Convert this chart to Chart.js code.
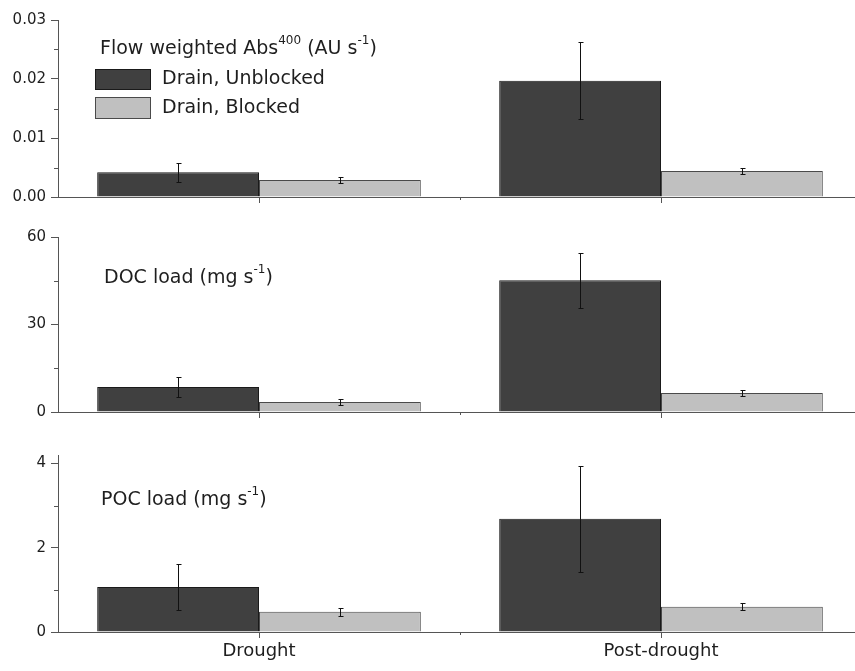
<!DOCTYPE html>
<html>
<head>
<meta charset="utf-8">
<script src="https://cdn.jsdelivr.net/npm/chart.js@4.4.1/dist/chart.umd.min.js"></script>
<style>
html, body { margin: 0; padding: 0; background: #fff; overflow: hidden; width: 855px; height: 671px; }
canvas { position: absolute; left: 0; }
</style>
</head>
<body>
<canvas id="painel-abs" width="862" height="227" style="top:0px"></canvas>
<canvas id="painel-doc" width="862" height="220" style="top:222px"></canvas>
<canvas id="painel-poc" width="862" height="231" style="top:440px"></canvas>
<script>
// dados
const categories = ['Drought', 'Post-drought'];
const seriesNames = ['Drain, Unblocked', 'Drain, Blocked'];

const absUnblocked = [0.0042, 0.0197];
const absUnblockedErr = [0.0016, 0.0065];
const absBlocked = [0.0029, 0.0044];
const absBlockedErr = [0.0005, 0.0005];

const docUnblocked = [8.6, 45.2];
const docUnblockedErr = [3.3, 9.4];
const docBlocked = [3.4, 6.5];
const docBlockedErr = [1.0, 1.0];

const pocUnblocked = [1.07, 2.69];
const pocUnblockedErr = [0.55, 1.26];
const pocBlocked = [0.48, 0.6];
const pocBlockedErr = [0.1, 0.08];

const absTicks = [0, 0.01, 0.02, 0.03];
const absMinor = [0.005, 0.015, 0.025];
const docTicks = [0, 30, 60];
const docMinor = [15, 45];
const pocTicks = [0, 2, 4];
const pocMinor = [1, 3];

const darkFill = '#404040';
const darkEdge = '#1a1a1a';
const lightFill = '#c0c0c0';
const lightEdge = '#4a4a4a';
const axisColor = '#555555';
const textColor = '#1e1e1e';

Chart.defaults.font.family = '"DejaVu Sans", sans-serif';

function drawRich(ctx, parts, x, y) {
	parts.forEach(p => {
		ctx.font = (p.sup ? '12px' : '19px') + ' "DejaVu Sans"';
		ctx.fillText(p.t, x, p.sup ? y - 8 : y);
		x += ctx.measureText(p.t).width;
	});
}

const errorBars = {
	id: 'errorBars',
	afterDatasetsDraw(chart) {
		const ctx = chart.ctx;
		const y = chart.scales.y;
		ctx.save();
		ctx.strokeStyle = '#111';
		ctx.lineWidth = 1;
		chart.data.datasets.forEach((ds, i) => {
			chart.getDatasetMeta(i).data.forEach((bar, j) => {
				const px = Math.round(bar.x) + 0.5;
				const top = Math.round(y.getPixelForValue(ds.data[j] + ds.errors[j])) + 0.5;
				const bot = Math.round(y.getPixelForValue(ds.data[j] - ds.errors[j])) + 0.5;
				ctx.beginPath();
				ctx.moveTo(px, top); ctx.lineTo(px, bot);
				ctx.moveTo(px - 2, top); ctx.lineTo(px + 3, top);
				ctx.moveTo(px - 2, bot); ctx.lineTo(px + 3, bot);
				ctx.stroke();
			});
		});
		ctx.restore();
	}
};

const panelDecor = {
	id: 'panelDecor',
	afterDraw(chart, args, opts) {
		const ctx = chart.ctx;
		const { x, y } = chart.scales;
		const left = chart.chartArea.left;
		ctx.save();
		ctx.strokeStyle = axisColor;
		ctx.lineWidth = 1;
		ctx.beginPath();
		opts.minor.forEach(v => {
			const py = Math.round(y.getPixelForValue(v)) + 0.5;
			ctx.moveTo(left - 4, py); ctx.lineTo(left, py);
		});
		const mx = Math.round(x.getPixelForValue(0.5)) + 0.5;
		ctx.moveTo(mx, chart.chartArea.bottom); ctx.lineTo(mx, chart.chartArea.bottom + 3);
		ctx.stroke();

		ctx.fillStyle = textColor;
		ctx.textBaseline = 'middle';
		ctx.textAlign = 'left';
		drawRich(ctx, opts.title, opts.titleX, opts.titleY);

		if (opts.legend) {
			const ds = chart.data.datasets;
			const rows = [[69, 20, 79], [97, 21, 108]];
			rows.forEach((r, i) => {
				ctx.fillStyle = ds[i].backgroundColor;
				ctx.strokeStyle = ds[i].borderColor;
				ctx.fillRect(95, r[0], 55, r[1]);
				ctx.strokeRect(95.5, r[0] + 0.5, 55, r[1]);
				ctx.fillStyle = textColor;
				ctx.font = '19px "DejaVu Sans"';
				ctx.fillText(ds[i].label, 162, r[2]);
			});
		}
		ctx.restore();
	}
};

function makePanel(id, cfg) {
	return new Chart(document.getElementById(id), {
		type: 'bar',
		data: {
			labels: categories,
			datasets: [
				{ label: seriesNames[0], data: cfg.dark, errors: cfg.darkErr, backgroundColor: darkFill, borderColor: darkEdge, borderWidth: 1 },
				{ label: seriesNames[1], data: cfg.light, errors: cfg.lightErr, backgroundColor: lightFill, borderColor: lightEdge, borderWidth: 1 }
			]
		},
		options: {
			responsive: false,
			animation: false,
			devicePixelRatio: 1,
			layout: { padding: { top: cfg.padTop, right: 0, bottom: 0, left: 0 } },
			datasets: { bar: { categoryPercentage: 0.805, barPercentage: 1 } },
			scales: {
				x: {
					offset: true,
					grid: { offset: false, drawOnChartArea: false, tickLength: 6, color: axisColor },
					border: { color: axisColor },
					ticks: { display: cfg.showX, color: textColor, font: { size: 18 }, padding: 3, maxRotation: 0 },
					afterFit: (s) => { s.height = cfg.xHeight; }
				},
				y: {
					min: 0,
					max: cfg.max,
					afterBuildTicks: (s) => { s.ticks = cfg.ticks.map(v => ({ value: v })); },
					grid: { drawOnChartArea: false, tickLength: 7, color: axisColor },
					border: { color: axisColor },
					ticks: { color: textColor, font: { size: 15 }, padding: 5, callback: (v) => Number(v).toFixed(cfg.decimals) },
					afterFit: (s) => { s.width = 58; }
				}
			},
			plugins: {
				legend: { display: false },
				tooltip: { enabled: false },
				panelDecor: { minor: cfg.minor, title: cfg.title, titleX: cfg.titleX, titleY: cfg.titleY, legend: cfg.legend }
			}
		},
		plugins: [errorBars, panelDecor]
	});
}

makePanel('painel-abs', {
	dark: absUnblocked, darkErr: absUnblockedErr, light: absBlocked, lightErr: absBlockedErr,
	max: 0.03, ticks: absTicks, minor: absMinor, decimals: 2,
	padTop: 20, xHeight: 30, showX: false, legend: true,
	title: [{ t: 'Flow weighted Abs' }, { t: '400', sup: true }, { t: ' (AU s' }, { t: '-1', sup: true }, { t: ')' }],
	titleX: 100, titleY: 49
});

makePanel('painel-doc', {
	dark: docUnblocked, darkErr: docUnblockedErr, light: docBlocked, lightErr: docBlockedErr,
	max: 60, ticks: docTicks, minor: docMinor, decimals: 0,
	padTop: 15, xHeight: 30, showX: false, legend: false,
	title: [{ t: 'DOC load (mg s' }, { t: '-1', sup: true }, { t: ')' }],
	titleX: 104, titleY: 56
});

makePanel('painel-poc', {
	dark: pocUnblocked, darkErr: pocUnblockedErr, light: pocBlocked, lightErr: pocBlockedErr,
	max: 4.2, ticks: pocTicks, minor: pocMinor, decimals: 0,
	padTop: 15, xHeight: 39, showX: true, legend: false,
	title: [{ t: 'POC load (mg s' }, { t: '-1', sup: true }, { t: ')' }],
	titleX: 101, titleY: 60
});
</script>
</body>
</html>
